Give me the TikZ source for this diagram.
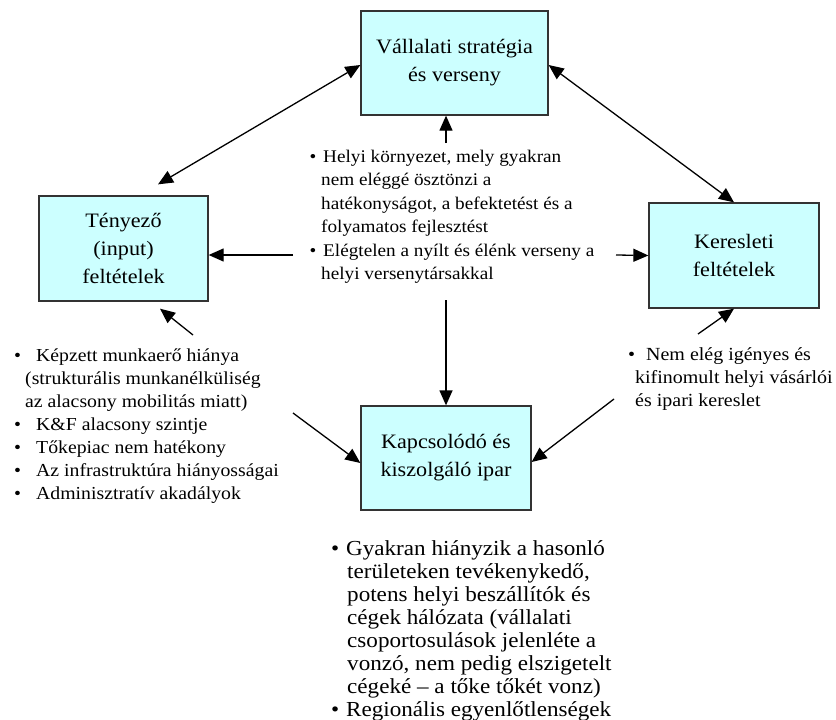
\documentclass[tikz,border=0pt]{standalone}
\usepackage{fontspec}
\setmainfont[FakeStretch=1.08]{Liberation Serif}
\usetikzlibrary{arrows.meta}
\definecolor{boxcyan}{HTML}{CCFFFF}
\definecolor{boxline}{HTML}{333333}
\newcommand\bu[1]{\makebox[#1][l]{•}}
\tikzset{
  box/.style={draw=boxline, line width=1.3pt, fill=boxcyan, inner sep=0pt, align=center,
              font={\fontsize{20.5}{28}\selectfont}},
  txt/.style={inner sep=0pt, anchor=base west, align=left},
  arr/.style={-{Triangle[length=15pt,width=13pt]}, line width=1.3pt},
  darr/.style={{Triangle[length=15pt,width=13pt]}-{Triangle[length=15pt,width=13pt]}, line width=1.3pt}
}
\begin{document}
\begin{tikzpicture}[x=1pt,y=-1pt]
\useasboundingbox (0,0) rectangle (836,720);
% boxes
\node[box, minimum width=187pt, minimum height=104pt] (vs) at (454.5,63) {Vállalati stratégia\\és verseny};
\node[box, minimum width=169pt, minimum height=105pt] (ty) at (123.5,248.5) {Tényező\\(input)\\feltételek};
\node[box, minimum width=170pt, minimum height=105pt] (kf) at (734,255.5) {Keresleti\\feltételek};
\node[box, minimum width=170pt, minimum height=104pt] (kk) at (446,458) {Kapcsolódó és\\kiszolgáló ipar};
% text blocks (anchored at the baseline of their last line)
\node[txt, font={\fontsize{17.8}{23.4}\selectfont}] (tm) at (309.5,279.5) {\bu{13.5pt}Helyi környezet, mely gyakran\\
\hspace*{11.5pt}nem eléggé ösztönzi a\\
\hspace*{11.5pt}hatékonyságot, a befektetést és a\\
\hspace*{11.5pt}folyamatos fejlesztést\\
\bu{13.5pt}Elégtelen a nyílt és élénk verseny a\\
\hspace*{11.5pt}helyi versenytársakkal};
\node[txt, font={\fontsize{18.3}{23}\selectfont}] (tl) at (14,499) {\bu{22pt}Képzett munkaerő hiánya\\
\hspace*{11pt}(strukturális munkanélküliség\\
\hspace*{11pt}az alacsony mobilitás miatt)\\
\bu{22pt}K\&F alacsony szintje\\
\bu{22pt}Tőkepiac nem hatékony\\
\bu{22pt}Az infrastruktúra hiányosságai\\
\bu{22pt}Adminisztratív akadályok};
\node[txt, font={\fontsize{18.5}{23}\selectfont}] (tr) at (628,406) {\bu{18pt}Nem elég igényes és\\
\hspace*{7pt}kifinomult helyi vásárlói\\
\hspace*{7pt}és ipari kereslet};
\node[txt, font={\fontsize{21.4}{22.86}\selectfont}] (tb) at (331,716) {\bu{15pt}Gyakran hiányzik a hasonló\\
\hspace*{16pt}területeken tevékenykedő,\\
\hspace*{16pt}potens helyi beszállítók és\\
\hspace*{16pt}cégek hálózata (vállalati\\
\hspace*{16pt}csoportosulások jelenléte a\\
\hspace*{16pt}vonzó, nem pedig elszigetelt\\
\hspace*{16pt}cégeké – a tőke tőkét vonz)\\
\bu{15pt}Regionális egyenlőtlenségek};
% free ends of connectors
\coordinate (a1) at (446,143);
\coordinate (a2) at (446,300);
\coordinate (hl) at (293,255);
\coordinate (hr) at (616,255);
\coordinate (dl1) at (193,335);
\coordinate (dl2) at (293,413);
\coordinate (dr1) at (698,334);
\coordinate (dr2) at (614,399);
% connectors
\draw[darr] ([yshift=-2pt]vs.west) -- ([xshift=34.5pt,yshift=11pt]ty.north);
\draw[darr] ([yshift=-2pt]vs.east) -- (kf.north);
\draw[arr] (a1) -- ([xshift=-8.5pt]vs.south);
\draw[arr] (a2) -- (kk.north);
\draw[arr] (hl) -- ([yshift=-6.5pt]ty.east);
\draw[arr] (hr) -- (kf.west);
\draw[arr] (dl1) -- ([xshift=36.5pt,yshift=-7pt]ty.south);
\draw[arr] (dl2) -- ([yshift=-5pt]kk.west);
\draw[arr] (dr1) -- (kf.south);
\draw[arr] (dr2) -- ([yshift=-4pt]kk.east);
\end{tikzpicture}
\end{document}
